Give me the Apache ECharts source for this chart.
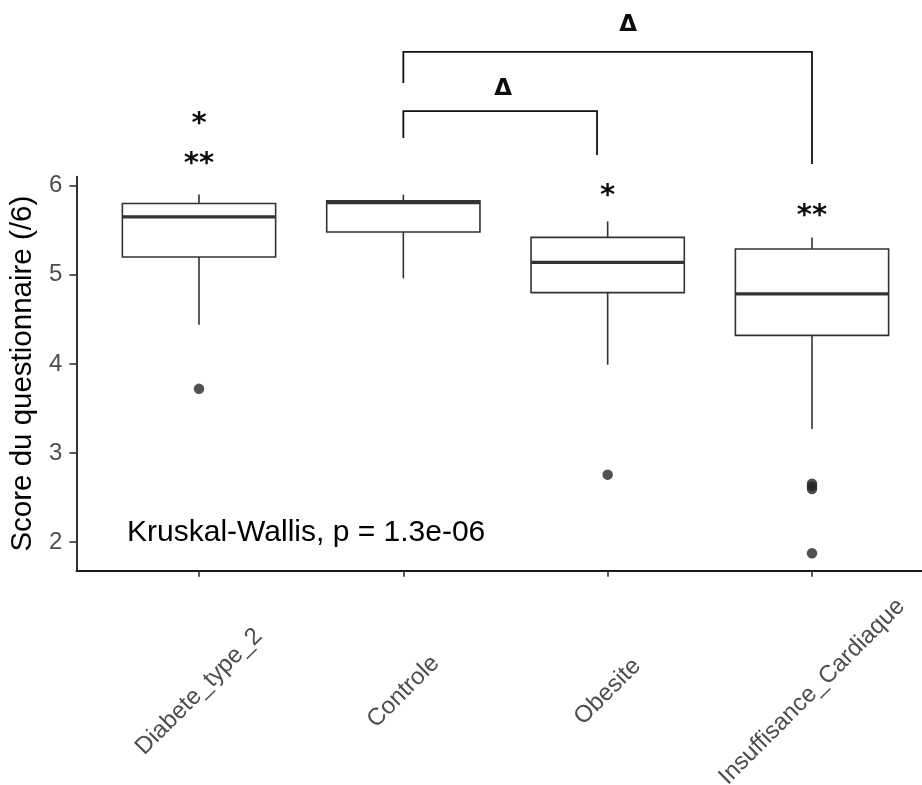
<!DOCTYPE html>
<html>
<head>
<meta charset="utf-8">
<script src="https://cdn.jsdelivr.net/npm/echarts@6/dist/echarts.min.js"></script>
<style>
  html, body { margin: 0; padding: 0; background: #ffffff; }
  #chart { width: 922px; height: 785px; }
</style>
</head>
<body>
<div id="chart"></div>
<script>
// Groups on the x axis
const groups = ['Diabete_type_2', 'Controle', 'Obesite', 'Insuffisance_Cardiaque'];

// Box summaries per group
const whiskerLow  = [4.44, 4.96, 3.99, 3.27];
const q1          = [5.20, 5.48, 4.80, 4.32];
const median      = [5.65, 5.81, 5.14, 4.785];
const q3          = [5.80, 5.83, 5.42, 5.29];
const whiskerHigh = [5.90, 5.90, 5.60, 5.42];

// Outlying scores (group index, value)
const outlierGroup = [0, 2, 3, 3, 3, 3];
const outlierValue = [3.72, 2.757, 2.655, 2.625, 2.595, 1.875];

// Y tick values
const yTicks = [2, 3, 4, 5, 6];

// Global test label
const testLabel = 'Kruskal-Wallis, p = 1.3e-06';
const testLabelX = -0.352;
const testLabelY = 2.10;

// Significance stars above boxes
const starX     = [0, 0, 2, 3];
const starLevel = [6.741, 6.30, 5.94, 5.716];
const starText  = ['*', '**', '*', '**'];

// Pairwise comparison brackets
const bracketFrom     = [1, 1];
const bracketTo       = [1.948, 3];
const bracketTop      = [6.838, 7.501];
const bracketLeftEnd  = [6.535, 7.153];
const bracketRightEnd = [6.345, 6.244];
const bracketMarkX    = [1.488, 2.10];
const bracketMarkY    = [7.085, 7.804];
const bracketMark     = ['\u0394', '\u0394'];

const boxData = groups.map((g, i) => [i, whiskerLow[i], q1[i], median[i], q3[i], whiskerHigh[i]]);
const outlierData = outlierGroup.map((g, i) => [g, outlierValue[i]]);
const starData = starX.map((x, i) => [x, starLevel[i], starText[i]]);
const bracketData = bracketFrom.map((f, i) => [f, bracketTo[i], bracketTop[i], bracketLeftEnd[i], bracketRightEnd[i]]);
const bracketMarkData = bracketMarkX.map((x, i) => [x, bracketMarkY[i], bracketMark[i]]);

const FONT = '"Liberation Sans", Arial, sans-serif';
const LINE = '#333333';
const HALF_WIDTH = 0.375;

function renderBox(params, api) {
  const x = api.value(0);
  const low = api.coord([x, api.value(1)]);
  const lo = api.coord([x, api.value(2)]);
  const mid = api.coord([x, api.value(3)]);
  const hi = api.coord([x, api.value(4)]);
  const high = api.coord([x, api.value(5)]);
  const left = api.coord([x - HALF_WIDTH, api.value(3)])[0];
  const right = api.coord([x + HALF_WIDTH, api.value(3)])[0];
  const thin = { stroke: LINE, lineWidth: 1.6, fill: null };
  return {
    type: 'group',
    children: [
      { type: 'line', shape: { x1: low[0], y1: low[1], x2: lo[0], y2: lo[1] }, style: thin },
      { type: 'line', shape: { x1: hi[0], y1: hi[1], x2: high[0], y2: high[1] }, style: thin },
      { type: 'rect', shape: { x: left, y: hi[1], width: right - left, height: lo[1] - hi[1] },
        style: { fill: '#ffffff', stroke: LINE, lineWidth: 1.6 } },
      { type: 'line', shape: { x1: left, y1: mid[1], x2: right, y2: mid[1] },
        style: { stroke: LINE, lineWidth: 3.2 } }
    ]
  };
}

function renderStar(params, api) {
  const p = api.coord([api.value(0), api.value(1)]);
  const size = 29;
  return {
    type: 'text',
    x: p[0],
    y: p[1] + size * 0.18,
    style: {
      text: starData[params.dataIndex][2],
      fontSize: size, fontWeight: 'bold', fontFamily: '"DejaVu Sans", sans-serif',
      fill: '#0d0d0d', align: 'center', verticalAlign: 'middle'
    }
  };
}

function renderBracket(params, api) {
  const xa = api.value(0), xb = api.value(1);
  const top = api.value(2);
  const a0 = api.coord([xa, api.value(3)]);
  const a1 = api.coord([xa, top]);
  const b1 = api.coord([xb, top]);
  const b0 = api.coord([xb, api.value(4)]);
  return {
    type: 'polyline',
    shape: { points: [a0, a1, b1, b0] },
    style: { stroke: '#111111', lineWidth: 1.8, fill: null }
  };
}

function renderMark(params, api) {
  const p = api.coord([api.value(0), api.value(1)]);
  return {
    type: 'text',
    x: p[0],
    y: p[1],
    style: {
      text: bracketMarkData[params.dataIndex][2],
      fontSize: 23, fontWeight: 'bold', fontFamily: '"DejaVu Sans", sans-serif',
      fill: '#0d0d0d', align: 'center', verticalAlign: 'middle'
    }
  };
}

function renderTestLabel(params, api) {
  const p = api.coord([api.value(0), api.value(1)]);
  return {
    type: 'text',
    x: p[0],
    y: p[1],
    style: {
      text: testLabel,
      fontSize: 30, fontFamily: FONT,
      fill: '#000000', align: 'left', verticalAlign: 'middle'
    }
  };
}

const chart = echarts.init(document.getElementById('chart'), null, { renderer: 'canvas' });

chart.setOption({
  backgroundColor: '#ffffff',
  animation: false,
  grid: {
    left: 76.4, right: -12.6, top: 176.7, bottom: 214.3,
    containLabel: false,
    outerBoundsMode: 'none'
  },
  xAxis: {
    type: 'value',
    min: -0.6,
    max: 3.6,
    splitLine: { show: false },
    axisLine: { show: true, onZero: false, lineStyle: { color: '#1a1a1a', width: 1.8 } },
    axisTick: { show: true, customValues: [0, 1, 2, 3], length: 6, lineStyle: { color: LINE, width: 1.6 } },
    axisLabel: {
      customValues: [0, 1, 2, 3],
      formatter: v => groups[Math.round(v)],
      rotate: 45,
      align: 'center',
      verticalAlign: 'middle',
      margin: 121,
      fontSize: 24,
      fontFamily: FONT,
      color: '#4d4d4d'
    }
  },
  yAxis: {
    type: 'value',
    min: 1.679,
    max: 6.101,
    name: 'Score du questionnaire (/6)',
    nameLocation: 'middle',
    nameGap: 33,
    nameTextStyle: { fontSize: 29.5, fontFamily: FONT, color: '#000000' },
    splitLine: { show: false },
    axisLine: { show: true, onZero: false, lineStyle: { color: '#1a1a1a', width: 1.8 } },
    axisTick: { show: true, customValues: yTicks, length: 7, lineStyle: { color: LINE, width: 1.6 } },
    axisLabel: {
      customValues: yTicks,
      margin: 14,
      fontSize: 24,
      fontFamily: FONT,
      color: '#4d4d4d'
    }
  },
  series: [
    {
      name: 'boxes',
      type: 'custom',
      renderItem: renderBox,
      encode: { x: 0, y: [1, 2, 3, 4, 5] },
      data: boxData,
      silent: true,
      z: 2
    },
    {
      name: 'outliers',
      type: 'scatter',
      data: outlierData,
      symbol: 'circle',
      symbolSize: 10.5,
      itemStyle: { color: '#262626' },
      silent: true,
      z: 3
    },
    {
      name: 'stars',
      type: 'custom',
      renderItem: renderStar,
      data: starData.map(d => [d[0], d[1]]),
      encode: { x: 0, y: 1 },
      clip: false,
      silent: true,
      z: 4
    },
    {
      name: 'brackets',
      type: 'custom',
      renderItem: renderBracket,
      data: bracketData,
      encode: { x: [0, 1], y: [2, 3, 4] },
      clip: false,
      silent: true,
      z: 4
    },
    {
      name: 'bracketMarks',
      type: 'custom',
      renderItem: renderMark,
      data: bracketMarkData.map(d => [d[0], d[1]]),
      encode: { x: 0, y: 1 },
      clip: false,
      silent: true,
      z: 4
    },
    {
      name: 'test',
      type: 'custom',
      renderItem: renderTestLabel,
      data: [[testLabelX, testLabelY]],
      encode: { x: 0, y: 1 },
      clip: false,
      silent: true,
      z: 4
    }
  ]
});
</script>
</body>
</html>
